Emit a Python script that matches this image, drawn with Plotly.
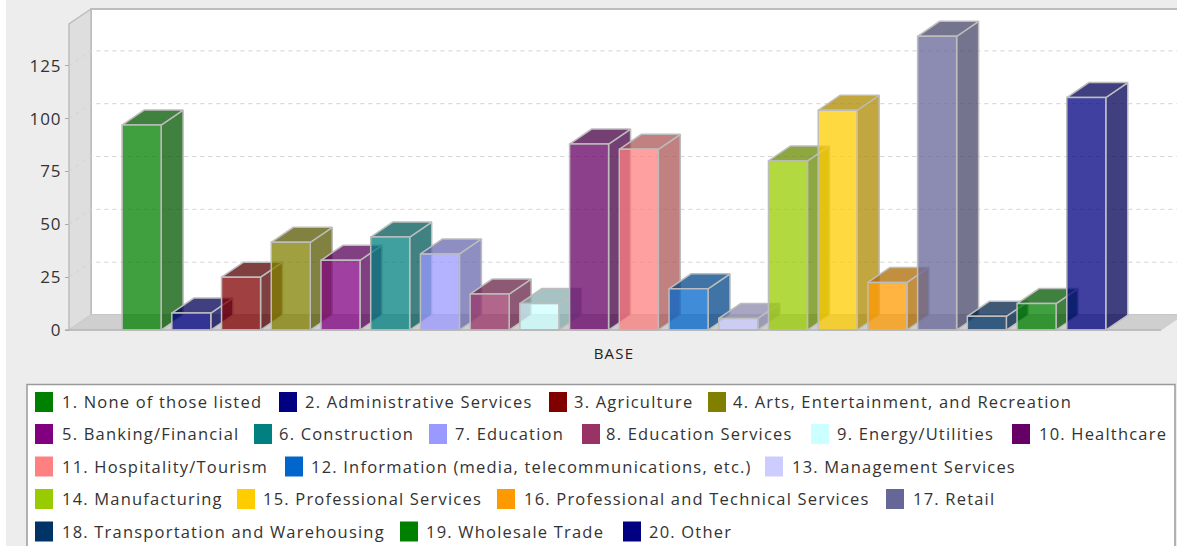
import plotly.graph_objects as go

W, H = 1177, 546

# ---- data ----
SERIES = ["1. None of those listed", "2. Administrative Services", "3. Agriculture",
          "4. Arts, Entertainment, and Recreation", "5. Banking/Financial", "6. Construction",
          "7. Education", "8. Education Services", "9. Energy/Utilities", "10. Healthcare",
          "11. Hospitality/Tourism", "12. Information (media, telecommunications, etc.)",
          "13. Management Services", "14. Manufacturing", "15. Professional Services",
          "16. Professional and Technical Services", "17. Retail",
          "18. Transportation and Warehousing", "19. Wholesale Trade", "20. Other"]
VALUES = [97, 8, 25, 41.5, 33, 44, 36, 17, 12.5, 88, 85.5, 19.5, 5.5, 80, 104, 22.5, 139, 6.5, 12.5, 110]
COLORS = ["#008000", "#000080", "#800000", "#808000", "#800080", "#008080", "#9999FF", "#993366",
          "#CCFFFF", "#660066", "#FF8080", "#0066CC", "#CCCCFF", "#99CC00", "#FFCC00", "#FF9900",
          "#666699", "#003366", "#008000", "#000080"]
CATEGORY = "BASE"
Y_TICKS = [0, 25, 50, 75, 100, 125]

# ---- layout constants (pixels of the page) ----
SLOT_PX, SLOT0_PX = 49.72, 141.6
PX_PER_UNIT, Y0_PX = 2.113, 330
DEPTH_X_PX, DEPTH_Y_PX = 22, 15
BAR_W_PX = 39
LEFT_PX, RIGHT_PX, TOP_PX = 69, 1161, 24
FONT = "Open Sans"
EDGE = "#bdbdbd"

ROWS_Y = [402, 434, 466.5, 499, 531.5]
LEGEND_LAYOUT = [  # (row, swatch x, text x)
    (0, 35, 60), (0, 279, 303), (0, 549, 572), (0, 708, 731),
    (1, 35, 60), (1, 254, 277), (1, 429, 453), (1, 582, 604), (1, 811, 835), (1, 1012, 1037),
    (2, 35, 60), (2, 285, 309), (2, 765, 790),
    (3, 35, 60), (3, 237, 261), (3, 497, 522), (3, 886, 911),
    (4, 35, 60), (4, 400, 424), (4, 623, 647),
]

def xs(px):  # pixel -> slot units on the x axis
    return (px - SLOT0_PX) / SLOT_PX
def ys(px):  # pixel -> value units on the y axis
    return (Y0_PX - px) / PX_PER_UNIT
def fx(px): return px / W
def fy(px): return 1 - px / H

DX, DY = DEPTH_X_PX / SLOT_PX, DEPTH_Y_PX / PX_PER_UNIT
HALF = BAR_W_PX / SLOT_PX / 2

def rgba(c, a, k=1.0):
    c = c.lstrip("#")
    r, g, b = [int(int(c[i:i + 2], 16) * k) for i in (0, 2, 4)]
    return f"rgba({r},{g},{b},{a})"

fig = go.Figure()

# walls and floor
def poly(x, y, fill, line=EDGE, width=1.5):
    fig.add_trace(go.Scatter(x=x + x[:1], y=y + y[:1], mode="lines", fill="toself", fillcolor=fill,
                             line=dict(color=line, width=width), hoverinfo="skip", showlegend=False))

lx, rx = xs(LEFT_PX), xs(RIGHT_PX)
ymax = ys(TOP_PX)
fig.add_trace(go.Scatter(x=[lx + DX, xs(W + 5), xs(W + 5), lx + DX, lx + DX],
                         y=[DY, DY, ymax + DY, ymax + DY, DY], mode="lines", fill="toself",
                         fillcolor="#ffffff", line=dict(color=EDGE, width=2), hoverinfo="skip", showlegend=False))
poly([lx, lx + DX, lx + DX, lx], [0, DY, ymax + DY, ymax], "#dedede")
poly([lx, rx, rx + DX, lx + DX], [0, 0, DY, DY], "#cfcfcf", line="#cfcfcf", width=1)

# gridlines on wall and back wall
for v in Y_TICKS[1:]:
    fig.add_trace(go.Scatter(x=[lx, lx + DX, xs(W + 5)], y=[v, v + DY, v + DY], mode="lines",
                             line=dict(color="#d2d2d2", width=1, dash="4px,4px"),
                             hoverinfo="skip", showlegend=False))

# bars: side, top, front in series order
for i, (name, v, c) in enumerate(zip(SERIES, VALUES, COLORS)):
    l, r = i - HALF, i + HALF
    poly([r, r + DX, r + DX, r], [0, DY, v + DY, v], rgba(c, 0.75, 0.68))
    poly([l, r, r + DX, l + DX], [v, v, v + DY, v + DY], rgba(c, 0.75, 0.68))
    fig.add_trace(go.Scatter(x=[l, r, r, l, l], y=[0, 0, v, v, 0], mode="lines", fill="toself",
                             fillcolor=rgba(c, 0.75), line=dict(color=EDGE, width=1.5),
                             name=name, hovertemplate=f"{name}: {v}<extra></extra>", showlegend=False))

# front base line
fig.add_trace(go.Scatter(x=[xs(LEFT_PX - 4), rx], y=[0, 0], mode="lines",
                         line=dict(color="#b5b5b5", width=1.5), hoverinfo="skip", showlegend=False))

shapes = [
    dict(type="rect", xref="paper", yref="paper", x0=fx(6), x1=1, y0=0, y1=1,
         fillcolor="#ededed", line_width=0, layer="below"),
    dict(type="rect", xref="paper", yref="paper", x0=fx(27), x1=fx(1175), y0=fy(H + 5), y1=fy(384.5),
         fillcolor="#ffffff", line=dict(color="#9a9a9a", width=1.5), layer="below"),
]
annotations = []
for (row, sx, tx), name, c in zip(LEGEND_LAYOUT, SERIES, COLORS):
    yc = ROWS_Y[row]
    shapes.append(dict(type="rect", xref="paper", yref="paper", x0=fx(sx), x1=fx(sx + 18),
                       y0=fy(yc + 10), y1=fy(yc - 10), fillcolor=c, line_width=0, layer="above"))
    annotations.append(dict(text=name, xref="paper", yref="paper", x=fx(tx), y=fy(yc - 0.5),
                            xanchor="left", yanchor="middle", align="left", showarrow=False,
                            font=dict(family=FONT, size=16.5, color="#333333")))

fig.update_layout(
    width=W, height=H, margin=dict(l=0, r=0, t=0, b=0), autosize=False,
    paper_bgcolor="#ffffff", plot_bgcolor="rgba(0,0,0,0)", showlegend=False,
    shapes=shapes, annotations=annotations,
    xaxis=dict(domain=[0, 1], range=[xs(0), xs(W)], anchor="free", position=fy(Y0_PX),
               tickmode="array", tickvals=[(len(SERIES) - 1) / 2], ticktext=[CATEGORY],
               ticks="outside", ticklen=10, tickcolor="rgba(0,0,0,0)", showgrid=False, zeroline=False,
               showline=False, tickfont=dict(family=FONT, size=15, color="#222222")),
    yaxis=dict(domain=[0, 1], range=[ys(H), ys(0)], anchor="free", position=fx(LEFT_PX),
               tickmode="array", tickvals=Y_TICKS, ticks="outside", ticklen=4, tickcolor="#aaaaaa",
               showgrid=False, zeroline=False, showline=False,
               tickfont=dict(family=FONT, size=17, color="#333333")),
)

POST = """
document.body.style.margin = '0';
document.querySelectorAll('.annotation-text').forEach(function (t) { t.style.letterSpacing = '1.2px'; });
document.querySelectorAll('.xtick text').forEach(function (t) { t.style.letterSpacing = '1.2px'; });
document.querySelectorAll('.ytick text').forEach(function (t) { t.style.letterSpacing = '1px'; });
"""
fig.write_html("out.html", config=dict(displayModeBar=False), post_script=POST)
